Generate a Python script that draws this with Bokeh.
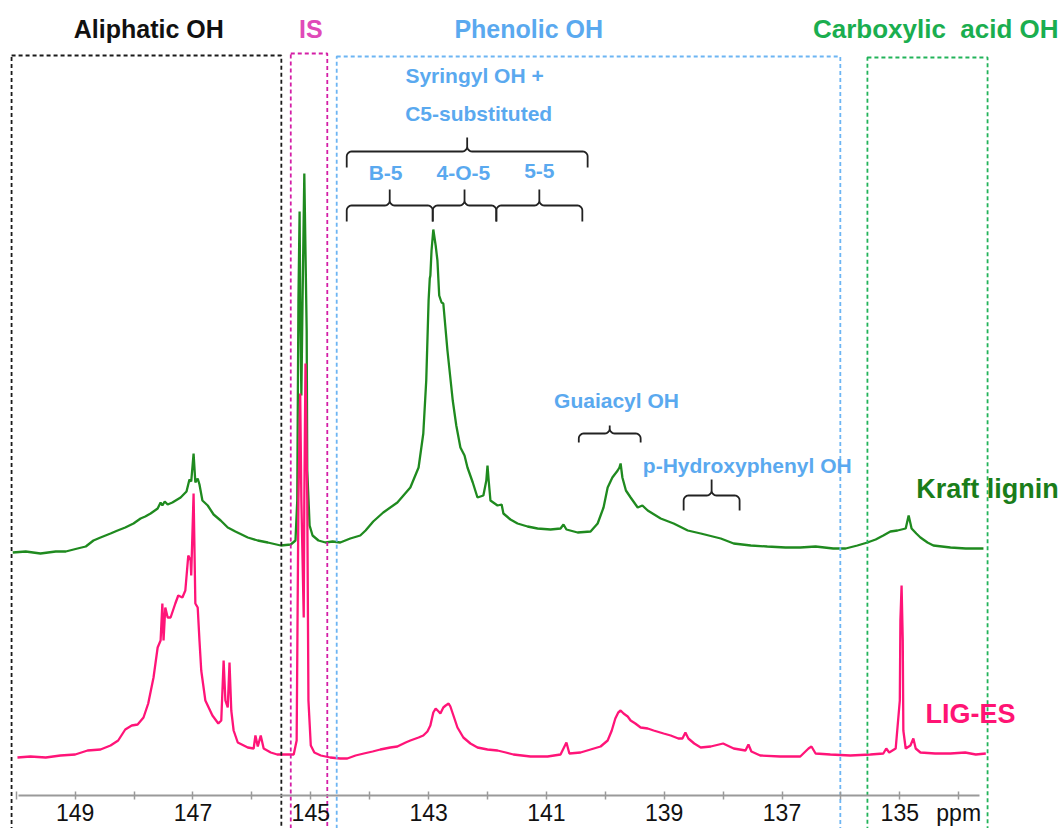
import numpy as np
from bokeh.plotting import figure
from bokeh.models import Range1d, LinearAxis, FixedTicker, Label
from bokeh.embed import file_html
from bokeh.resources import INLINE

# ---------------- data (ppm, intensity a.u.) ----------------
green_ppm = [150.06,149.84,149.59,149.33,149.16,148.96,148.82,148.69,148.57,148.40,
             148.28,148.15,148.01,147.89,147.81,147.72,147.60,147.55,147.52,147.48,
             147.43,147.35,147.21,147.11,147.06,147.03,146.99,146.96,146.92,146.89,
             146.84,146.75,146.65,146.53,146.41,146.28,146.07,145.90,145.73,145.51,
             145.34,145.26,145.23,145.21,145.19,145.18,145.16,145.14,145.11,145.07,
             145.06,145.02,144.97,144.87,144.75,144.63,144.50,144.33,144.16,144.07,
             143.94,143.77,143.53,143.31,143.17,143.09,143.04,143.00,142.98,142.97,
             142.95,142.92,142.88,142.85,142.82,142.78,142.75,142.68,142.59,142.53,
             142.46,142.39,142.34,142.25,142.17,142.07,142.02,142.00,141.98,141.95,
             141.83,141.76,141.73,141.61,141.49,141.32,141.15,140.93,140.76,140.71,
             140.66,140.47,140.25,140.13,140.03,139.96,139.88,139.79,139.76,139.74,
             139.71,139.65,139.57,139.45,139.37,139.28,139.06,138.84,138.60,138.38,
             138.04,137.82,137.53,137.25,136.94,136.69,136.43,136.13,135.92,135.72,
             135.55,135.41,135.28,135.16,135.04,134.90,134.85,134.80,134.72,134.65,
             134.53,134.43,134.14,133.88,133.58]
green_int = [0,1,-1,1,1,4,6,12,15,19,
             22,25,29,34,36,39,44,50,47,51,
             48,50,55,61,73,71,99,70,74,68,
             52,47,38,32,25,21,15,12,10,7,
             8,12,52,252,341,252,157,252,379,222,
             82,27,17,12,10,11,10,14,17,22,
             31,40,50,65,85,119,172,252,274,277,
             302,323,307,292,257,250,249,202,152,127,
             105,97,85,70,55,57,72,87,72,52,
             47,48,39,33,29,26,24,23,24,28,
             23,20,21,29,45,65,75,82,85,89,
             75,62,55,45,47,42,34,29,22,19,
             14,9,7,6,5,5,6,4,4,7,
             10,13,17,21,22,24,37,24,19,15,
             10,7,5,4,4]

pink_ppm = [149.98,149.76,149.50,149.25,149.00,148.79,148.57,148.40,148.27,148.15,
            148.04,147.94,147.84,147.76,147.67,147.60,147.55,147.52,147.50,147.47,
            147.43,147.38,147.30,147.25,147.18,147.13,147.08,147.04,147.03,146.99,
            146.96,146.92,146.89,146.86,146.79,146.67,146.57,146.52,146.48,146.45,
            146.41,146.38,146.35,146.31,146.24,146.07,145.97,145.94,145.90,145.85,
            145.80,145.68,145.57,145.43,145.29,145.24,145.21,145.18,145.16,145.12,
            145.11,145.09,145.06,145.04,145.00,144.94,144.83,144.67,144.50,144.38,
            144.24,144.10,143.95,143.82,143.65,143.53,143.39,143.31,143.17,143.09,
            143.02,142.97,142.92,142.88,142.83,142.80,142.75,142.71,142.66,142.63,
            142.59,142.51,142.41,142.29,142.17,142.00,141.83,141.69,141.56,141.27,
            140.98,140.76,140.66,140.61,140.42,140.25,140.08,139.96,139.89,139.83,
            139.78,139.74,139.69,139.62,139.57,139.49,139.40,139.28,139.18,139.01,
            138.89,138.76,138.69,138.64,138.59,138.49,138.38,138.21,138.00,137.82,
            137.62,137.57,137.52,137.37,137.03,136.69,136.55,136.50,136.43,136.18,
            135.84,135.50,135.28,135.23,135.18,135.07,135.00,134.99,134.97,134.95,
            134.94,134.90,134.82,134.77,134.73,134.65,134.40,134.14,133.89,133.71,
            133.54]
pink_int = [0,1,0,2,3,7,8,12,17,28,
            32,33,40,54,80,110,117,154,117,150,
            140,140,154,162,160,167,202,197,182,264,
            154,150,117,87,57,42,34,37,97,57,
            50,95,47,27,15,10,9,22,11,22,
            9,5,3,3,3,17,257,364,257,140,
            257,394,257,57,12,5,2,0,-1,-1,
            2,4,6,8,10,11,15,17,20,22,
            26,32,45,49,46,44,50,52,54,51,
            44,30,20,14,10,8,7,5,3,1,
            1,3,15,4,5,8,11,17,27,39,
            45,47,44,41,37,34,30,29,27,24,
            22,19,19,25,19,14,10,11,14,9,
            7,13,6,2,1,1,9,11,4,3,
            2,3,4,9,5,9,57,137,172,117,
            27,9,12,19,9,5,4,4,5,3,
            4]

green_offset = 205          # vertical stacking of the Kraft lignin trace

# region boxes: (left ppm, right ppm, top, colour)
region_left = [150.08, 145.34, 144.56, 135.55]
region_right = [145.50, 144.72, 136.01, 133.51]
region_top = [702, 704, 701, 700]
region_colors = ["#1a1a1a", "#d41ea6", "#6db5f3", "#22b35a"]

region_titles = ["Aliphatic OH", "IS", "Phenolic OH", "Carboxylic\u00a0 acid OH"]
region_title_x = [147.75, 145.00, 141.30, 134.39]
region_title_size = ["25px", "25px", "25px", "26px"]
title_colors = ["#111111", "#e04ab8", "#5aa9ef", "#1aae4f"]

# braces: (from ppm, to ppm, level, hook, cusp)
brace_from = [144.39, 144.39, 142.93, 141.85, 140.45, 138.67]
brace_to = [140.30, 142.93, 141.85, 140.39, 139.40, 137.72]
brace_level = [606, 552, 552, 552, 324, 262]
brace_hook = [16, 16, 16, 16, 9, 15]
brace_cusp = [14, 16, 16, 16, 8, 16]

sub_labels = ["Syringyl OH +", "C5-substituted", "B-5", "4-O-5", "5-5",
              "Guaiacyl OH", "p-Hydroxyphenyl OH"]
sub_x = [142.22, 142.15, 143.73, 142.41, 141.12, 139.81, 137.59]
sub_y = [682, 644, 585, 585, 587, 357, 292]

major_ticks = [149, 147, 145, 143, 141, 139, 137, 135, 134]
minor_ticks = [150, 148, 146, 144, 142, 140, 138, 136]
axis_extent = (149.97, 133.64)

X_START, X_END = 150.268, 132.204
Y_START, Y_END = -71, 757
W, H = 1064, 828
PX = W / (X_START - X_END)   # screen px per ppm

p = figure(width=W, height=H, output_backend="svg", toolbar_location=None,
           x_range=Range1d(X_START, X_END), y_range=Range1d(Y_START, Y_END),
           x_axis_type=None, y_axis_type=None,
           min_border_left=0, min_border_right=0, min_border_top=0, min_border_bottom=0)
p.outline_line_color = None
p.background_fill_color = "white"

# spectra
p.line(green_ppm, [v + green_offset for v in green_int], line_color="#1f8a1f", line_width=2.3)
p.line(pink_ppm, pink_int, line_color="#ff1478", line_width=2.3)

# region boxes
p.quad(left=region_left, right=region_right, top=region_top, bottom=[-200] * 4,
       fill_alpha=0, line_color=region_colors, line_width=1.8, line_dash="4 3")


def brace(xa, xb, yl, hook, cusp, r=5):
    L = (xa - xb) * PX
    m = L / 2
    pts = [(0, -hook)]
    for a in np.linspace(np.pi, np.pi / 2, 7):
        pts.append((r + r * np.cos(a), -r + r * np.sin(a)))
    for a in np.linspace(-np.pi / 2, 0, 7):
        pts.append((m - r + r * np.cos(a), r + r * np.sin(a)))
    pts.append((m, cusp))
    for a in np.linspace(np.pi, 1.5 * np.pi, 7):
        pts.append((m + r + r * np.cos(a), r + r * np.sin(a)))
    for a in np.linspace(np.pi / 2, 0, 7):
        pts.append((L - r + r * np.cos(a), -r + r * np.sin(a)))
    pts.append((L, -hook))
    return [xa - q[0] / PX for q in pts], [yl + q[1] for q in pts]


bxs, bys = [], []
for i in range(len(brace_from)):
    bx, by = brace(brace_from[i], brace_to[i], brace_level[i], brace_hook[i], brace_cusp[i])
    bxs.append(bx)
    bys.append(by)
p.multi_line(bxs, bys, line_color="#222222", line_width=1.8)

FONT = "Liberation Sans"
for t, x, c, s in zip(region_titles, region_title_x, title_colors, region_title_size):
    p.add_layout(Label(x=x, y=729, text=t, text_align="center", text_baseline="middle",
                       text_font=FONT, text_font_style="bold", text_font_size=s,
                       text_color=c))

for t, x, y in zip(sub_labels, sub_x, sub_y):
    p.add_layout(Label(x=x, y=y, text=t, text_align="center", text_baseline="middle",
                       text_font=FONT, text_font_style="bold", text_font_size="21px",
                       text_color="#5aa9ef"))

p.add_layout(Label(x=133.51, y=269, text="Kraft lignin", text_align="center",
                   text_baseline="middle", text_font=FONT, text_font_style="bold",
                   text_font_size="27px", text_color="#1a7d1a"))
p.add_layout(Label(x=133.80, y=44, text="LIG-ES", text_align="center",
                   text_baseline="middle", text_font=FONT, text_font_style="bold",
                   text_font_size="27px", text_color="#ff1474"))

ax = LinearAxis(fixed_location=-38, bounds=axis_extent,
                ticker=FixedTicker(ticks=major_ticks, minor_ticks=minor_ticks))
ax.major_label_overrides = {134: "ppm"}
ax.axis_line_color = "#9a9a9a"
ax.axis_line_width = 2
ax.major_tick_line_color = "#9a9a9a"
ax.minor_tick_line_color = "#9a9a9a"
ax.major_tick_line_width = 1.5
ax.minor_tick_line_width = 1.5
ax.major_tick_in = 4
ax.major_tick_out = 4
ax.minor_tick_in = 4
ax.minor_tick_out = 4
ax.major_label_standoff = 0
ax.major_label_text_font = "Liberation Sans"
ax.major_label_text_font_size = "23px"
ax.major_label_text_color = "#111111"
p.add_layout(ax, "below")

open("out.html", "w").write(file_html(p, INLINE))
